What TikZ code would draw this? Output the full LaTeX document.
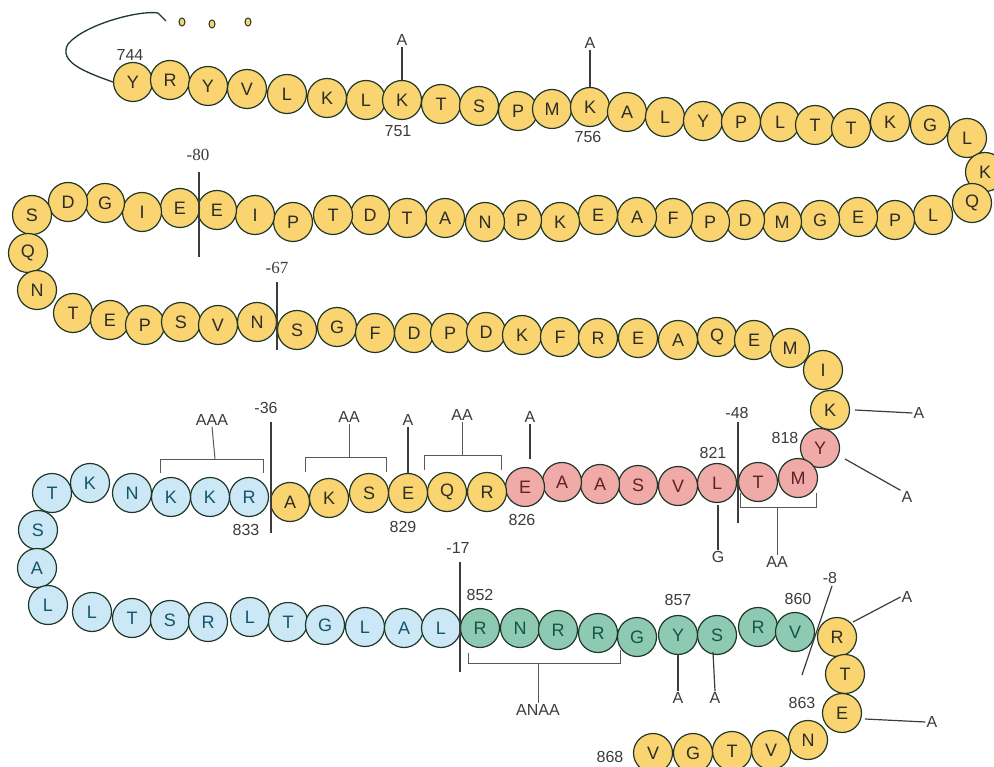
\documentclass[tikz,border=0pt]{standalone}
\usepackage{fontspec}
\setmainfont{Liberation Sans}
\newfontfamily\numserif{Liberation Serif}
\usetikzlibrary{shapes.geometric}
\definecolor{yelfill}{RGB}{250,212,112}
\definecolor{blufill}{RGB}{204,232,246}
\definecolor{redfill}{RGB}{240,170,168}
\definecolor{grnfill}{RGB}{142,201,180}
\definecolor{beadline}{RGB}{30,55,40}
\definecolor{yeltext}{RGB}{45,45,40}
\definecolor{blutext}{RGB}{20,85,105}
\definecolor{redtext}{RGB}{95,35,35}
\definecolor{grntext}{RGB}{20,85,70}
\definecolor{annot}{RGB}{60,60,60}
\tikzset{
  bead/.style={circle, draw=beadline, line width=1.2pt, minimum size=39pt, inner sep=0pt,
    font=\fontsize{18}{18}\selectfont},
  ybead/.style={bead, fill=yelfill, text=yeltext},
  bbead/.style={bead, fill=blufill, text=blutext},
  rbead/.style={bead, fill=redfill, text=redtext},
  gbead/.style={bead, fill=grnfill, text=grntext},
  lab/.style={inner sep=1pt, text=annot, font=\fontsize{16}{16}\selectfont},
  serlab/.style={inner sep=1pt, text=annot, font=\numserif\fontsize{17}{17}\selectfont},
  cutline/.style={draw=annot, line width=1.2pt},
  brack/.style={draw=annot!85, line width=1pt},
  dotbead/.style={ellipse, draw=beadline, fill=yelfill, line width=1pt, minimum width=6pt, minimum height=8pt, inner sep=0pt}
}
\begin{document}
\begin{tikzpicture}[x=1pt,y=-1pt]
\useasboundingbox[fill=white] (0,0) rectangle (994,767);
% yellow beads 744-817
\foreach \n/\x/\y/\l in {744/133/82/Y,745/170/80/R,746/208/86/Y,747/247/89/V,748/287/94/L,749/327/98/K,
  750/366/100/L,751/402/100/K,752/441/104/T,753/479/106/S,754/518/111/P,755/552/109/M,756/590/107/K,
  757/627/112/A,758/665/117/L,759/703/121/Y,760/741/122/P,761/780/122/L,762/815/125/T,763/851/128/T,
  764/890/122/K,765/930/125/G,766/967/138/L,767/985/172/K,768/972/203/Q,
  769/933/215/L,770/895/220/P,771/858/217/E,772/820/220/G,773/782/222/M,774/745/220/D,775/710/222/P,
  776/673/218/F,777/637/217/A,778/598/215/E,779/560/222/K,780/522/220/P,781/485/222/N,782/445/218/A,
  783/407/218/T,784/370/215/D,785/333/215/T,786/293/222/P,787/255/215/I,788/217/210/E,789/180/208/E,
  790/142/212/I,791/105/203/G,792/68/202/D,793/32/215/S,794/28/253/Q,795/37/290/N,
  796/73/313/T,797/110/320/E,798/145/325/P,799/181/322/S,800/218/325/V,801/257/322/N,802/297/330/S,
  803/337/327/G,804/375/333/F,805/414/333/D,806/450/333/P,807/486/332/D,808/522/335/K,809/560/337/F,
  810/598/338/R,811/638/338/E,812/678/340/A,813/717/337/Q,814/754/340/E,815/790/348/M,816/823/370/I,
  817/830/410/K}
  \node[ybead] (b\n) at (\x,\y) {\l};
% red beads 818-826
\foreach \n/\x/\y/\l in {818/820/448/Y,819/798/478/M,820/758/482/T,821/717/483/L,822/678/486/V,
  823/638/485/S,824/600/484/A,825/562/482/A,826/525/487/E}
  \node[rbead] (b\n) at (\x,\y) {\l};
% yellow 827-832
\foreach \n/\x/\y/\l in {827/487/492/R,828/447/492/Q,829/408/493/E,830/369/493/S,831/329/498/K,832/290/502/A}
  \node[ybead] (b\n) at (\x,\y) {\l};
% blue 833-851
\foreach \n/\x/\y/\l in {833/249/497/R,834/210/497/K,835/171/497/K,836/132/493/N,837/90/483/K,
  838/52/493/T,839/38/530/S,840/37/568/A,841/48/605/L,842/92/612/L,843/132/618/T,844/170/620/S,
  845/208/622/R,846/250/617/L,847/288/622/T,848/325/625/G,849/365/627/L,850/404/628/A,851/441/628/L}
  \node[bbead] (b\n) at (\x,\y) {\l};
% green 852-860
\foreach \n/\x/\y/\l in {852/480/628/R,853/520/628/N,854/558/630/R,855/598/633/R,856/637/637/G,
  857/678/635/Y,858/717/635/S,859/758/627/R,860/795/632/V}
  \node[gbead] (b\n) at (\x,\y) {\l};
% yellow 861-868
\foreach \n/\x/\y/\l in {861/837/637/R,862/845/674/T,863/842/713/E,864/808/740/N,865/771/750/V,
  866/732/751/T,867/693/753/G,868/653/753/V}
  \node[ybead] (b\n) at (\x,\y) {\l};

% top-left loop and dots
\draw[line width=1.3pt, draw=beadline] (b744.west) .. controls (85,72) and (58,62) .. (68,44)
  .. controls (85,24) and (140,10) .. (158,13) -- (166,21);
\node[dotbead] (d1) at (182,22) {};
\node[dotbead] (d2) at (212,24) {};
\node[dotbead] (d3) at (248,22) {};

% residue numbers
\node[lab] (n744) at (130,55) {744};
\node[lab] (n751) at (398,131) {751};
\node[lab] (n756) at (588,137) {756};
\node[lab] (n821) at (713,453) {821};
\node[lab] (n818) at (785,438) {818};
\node[lab] (n833) at (246,530) {833};
\node[lab] (n829) at (403,527) {829};
\node[lab] (n826) at (522,520) {826};
\node[lab] (n852) at (480,595) {852};
\node[lab] (n857) at (678,600) {857};
\node[lab] (n860) at (798,599) {860};
\node[lab] (n863) at (802,703) {863};
\node[lab] (n868) at (610,757) {868};

% cut positions
\node[serlab] (m80) at (198,155) {-80};
\coordinate (m80a) at (199,172); \coordinate (m80b) at (199,257);
\draw[cutline] (m80a) -- (m80b);
\node[serlab] (m67) at (277,268) {-67};
\coordinate (m67a) at (277,282); \coordinate (m67b) at (277,350);
\draw[cutline] (m67a) -- (m67b);
\node[lab] (m36) at (266,408) {-36};
\coordinate (m36a) at (271,422); \coordinate (m36b) at (271,533);
\draw[cutline] (m36a) -- (m36b);
\node[lab] (m48) at (737,413) {-48};
\coordinate (m48a) at (738,422); \coordinate (m48b) at (738,523);
\draw[cutline] (m48a) -- (m48b);
\node[lab] (m17) at (458,548) {-17};
\coordinate (m17a) at (460,562); \coordinate (m17b) at (460,672);
\draw[cutline] (m17a) -- (m17b);
\node[lab] (m8) at (830,578) {-8};
\coordinate (m8a) at (832,586); \coordinate (m8b) at (802,675);
\draw[cutline] (m8a) -- (m8b);

% substitutions, top row
\node[lab] (s751) at (402,40) {A};
\draw[cutline] (b751.north) -- (s751.south);
\node[lab] (s756) at (590,43) {A};
\draw[cutline] (b756.north) -- (s756.south);

% brackets above row 4
\node[lab] (sAAA) at (212,420) {AAA};
\draw[brack] (160,473) -- (160,459) -- (263,459) -- (263,473);
\draw[brack] (215,459) -- (sAAA.south);
\node[lab] (sAA1) at (349,417) {AA};
\draw[brack] (305,472) -- (305,457) -- (386,457) -- (386,472);
\draw[brack] (349,457) -- (sAA1.south);
\node[lab] (s829) at (408,420) {A};
\draw[cutline] (b829.north) -- (s829.south);
\node[lab] (sAA2) at (462,415) {AA};
\draw[brack] (424,470) -- (424,455) -- (501,455) -- (501,470);
\draw[brack] (462,455) -- (sAA2.south);
\node[lab] (s826) at (530,417) {A};
\coordinate (c826) at (530,459);
\draw[cutline] (c826) -- (s826.south);

% below row 4
\node[lab] (s821) at (718,557) {G};
\coordinate (c821) at (718,505);
\draw[cutline] (c821) -- (s821.north);
\node[lab] (sTM) at (777,562) {AA};
\draw[brack] (740,493) -- (740,507) -- (816,507) -- (816,493);
\draw[brack] (777,507) -- (sTM.north);
\node[lab] (s817) at (919,413) {A};
\coordinate (c817) at (855,410);
\draw[cutline] (c817) -- (s817.west);
\node[lab] (s818) at (907,497) {A};
\coordinate (c818) at (845,459);
\draw[cutline] (c818) -- (s818.north west);

% row 5
\node[lab] (sANAA) at (538,710) {ANAA};
\draw[brack] (468,653) -- (468,663) -- (620,663) -- (620,650);
\draw[brack] (538,663) -- (sANAA.north);
\node[lab] (s857) at (678,698) {A};
\coordinate (c857) at (678,654);
\draw[cutline] (c857) -- (s857.north);
\node[lab] (s858) at (715,698) {A};
\coordinate (c858) at (713,652);
\draw[cutline] (c858) -- (s858.north);
\node[lab] (s861) at (907,597) {A};
\coordinate (c861) at (853,622);
\draw[cutline] (c861) -- (s861.west);
\node[lab] (s863) at (932,722) {A};
\coordinate (c863) at (865,719);
\draw[cutline] (c863) -- (s863.west);
\end{tikzpicture}
\end{document}
